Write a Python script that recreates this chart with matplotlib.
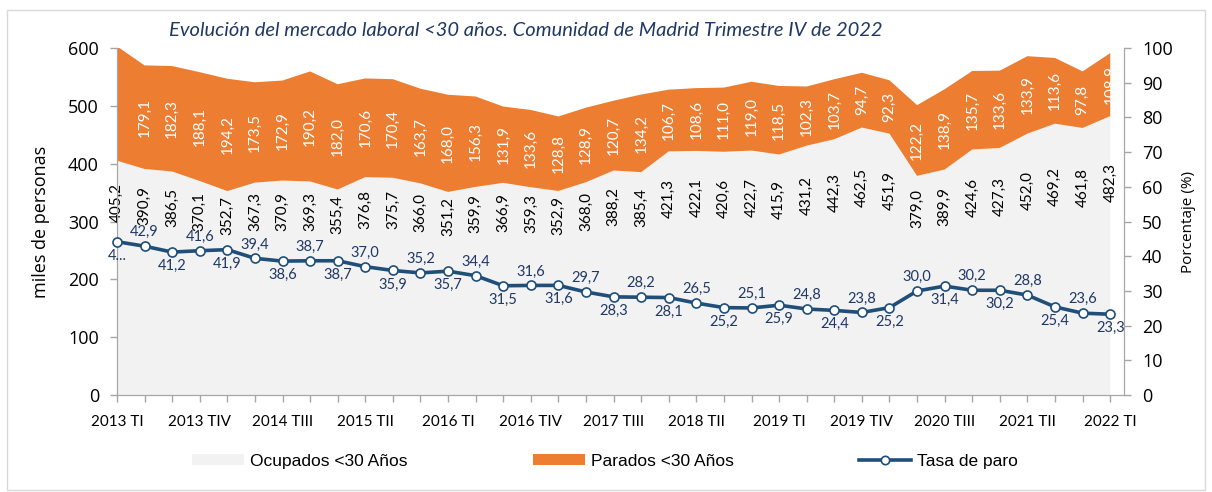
import matplotlib
matplotlib.use("Agg")
import matplotlib.pyplot as plt
from matplotlib.patches import Patch, Rectangle
from matplotlib.lines import Line2D

# Quarters 2013 TI .. 2022 TI
quarters = ["2013 TI", "2013 TII", "2013 TIII", "2013 TIV",
            "2014 TI", "2014 TII", "2014 TIII", "2014 TIV",
            "2015 TI", "2015 TII", "2015 TIII", "2015 TIV",
            "2016 TI", "2016 TII", "2016 TIII", "2016 TIV",
            "2017 TI", "2017 TII", "2017 TIII", "2017 TIV",
            "2018 TI", "2018 TII", "2018 TIII", "2018 TIV",
            "2019 TI", "2019 TII", "2019 TIII", "2019 TIV",
            "2020 TI", "2020 TII", "2020 TIII", "2020 TIV",
            "2021 TI", "2021 TII", "2021 TIII", "2021 TIV",
            "2022 TI"]

ocupados = [405.2, 390.9, 386.5, 370.1, 352.7, 367.3, 370.9, 369.3, 355.4, 376.8,
            375.7, 366.0, 351.2, 359.9, 366.9, 359.3, 352.9, 368.0, 388.2, 385.4,
            421.3, 422.1, 420.6, 422.7, 415.9, 431.2, 442.3, 462.5, 451.9, 379.0,
            389.9, 424.6, 427.3, 452.0, 469.2, 461.8, 482.3]

# first value is not labelled in the source chart (estimated from the area edge)
parados = [197.8, 179.1, 182.3, 188.1, 194.2, 173.5, 172.9, 190.2, 182.0, 170.6,
           170.4, 163.7, 168.0, 156.3, 131.9, 133.6, 128.8, 128.9, 120.7, 134.2,
           106.7, 108.6, 111.0, 119.0, 118.5, 102.3, 103.7, 94.7, 92.3, 122.2,
           138.9, 135.7, 133.6, 133.9, 113.6, 97.8, 108.9]

tasa = [44.2, 42.9, 41.2, 41.6, 41.9, 39.4, 38.6, 38.7, 38.7, 37.0,
        35.9, 35.2, 35.7, 34.4, 31.5, 31.6, 31.6, 29.7, 28.3, 28.2,
        28.1, 26.5, 25.2, 25.1, 25.9, 24.8, 24.4, 23.8, 25.2, 30.0,
        31.4, 30.2, 30.2, 28.8, 25.4, 23.6, 23.3]

GRAY = "#F2F2F2"
ORANGE = "#ED7D31"
BLUE = "#1F4E79"
LBLUE = "#1F3864"
SPINE = "#A6A6A6"
FONT = "Lato"
NUMFONT = "Open Sans"


def fmt(v):
    return ("%.1f" % v).replace(".", ",")


fig = plt.figure(figsize=(12.12, 4.92), dpi=100)
ax = fig.add_axes([0.0965, 0.197, 0.8309, 0.7054])
ax2 = ax.twinx()

x = list(range(len(quarters)))
ax.stackplot(x, ocupados, parados, colors=[GRAY, ORANGE], linewidth=0)
ax.set_xlim(0, len(x) - 0.5)
ax.set_ylim(0, 600)
ax.set_yticks(range(0, 601, 100))
ax2.set_ylim(0, 100)
ax2.set_yticks(range(0, 101, 10))

ax.set_xticks(x)
ax.set_xticklabels([q if i % 3 == 0 else "" for i, q in enumerate(quarters)],
                   fontsize=11, family=FONT)
for lab in ax.get_yticklabels() + ax2.get_yticklabels():
    lab.set_fontsize(13)
    lab.set_family(NUMFONT)

for a in (ax, ax2):
    a.spines["top"].set_visible(False)
    for s in ("left", "right", "bottom"):
        a.spines[s].set_color(SPINE)
    a.tick_params(color=SPINE, length=5, width=1)
ax.tick_params(axis="x", pad=9)
ax.tick_params(axis="y", pad=8)
ax2.tick_params(axis="y", pad=8)

# data labels of the stacked areas
for i in x:
    ax.text(i, 155 + 0.44 * ocupados[i], fmt(ocupados[i]), rotation=90,
            ha="center", va="center", fontsize=11, family=FONT, color="black")
    if i > 0:
        ax.text(i, ocupados[i] + parados[i] / 2, fmt(parados[i]), rotation=90,
                ha="center", va="center", fontsize=11, family=FONT, color="white",
                clip_on=True)

# unemployment rate line
ax2.plot(x, tasa, color=BLUE, linewidth=2.6, marker="o", markersize=6.5,
         markerfacecolor="white", markeredgecolor=BLUE, markeredgewidth=1.2,
         clip_on=False, zorder=5)
for i in x:
    label = fmt(tasa[i]) if i > 0 else "4..."
    if i % 2 == 1:
        ax2.annotate(label, (i, tasa[i]), xytext=(0, 5), textcoords="offset points",
                     ha="center", va="bottom", fontsize=10.5, family=FONT, color=LBLUE)
    else:
        ax2.annotate(label, (i, tasa[i]), xytext=(0, -5), textcoords="offset points",
                     ha="center", va="top", fontsize=10.5, family=FONT, color=LBLUE)

ax.set_ylabel("miles de personas", fontsize=13, family=NUMFONT, labelpad=13)
ax2.set_ylabel("Porcentaje (%)", fontsize=11, family=NUMFONT, labelpad=6)

fig.text(0.434, 0.938, "Evolución del mercado laboral <30 años. Comunidad de Madrid Trimestre IV de 2022",
         ha="center", va="center", fontsize=14.5, style="italic", family=FONT, color="#1F3864")

handles = [Patch(facecolor=GRAY, edgecolor="none"),
           Patch(facecolor=ORANGE, edgecolor="none"),
           Line2D([0], [0], color=BLUE, linewidth=2.6, marker="o", markersize=6,
                  markerfacecolor="white", markeredgecolor=BLUE, markeredgewidth=1.2)]
labels = ["Ocupados <30 Años", "Parados <30 Años", "Tasa de paro"]
fig.legend(handles, labels, loc="center", bbox_to_anchor=(0.4993, 0.063), ncol=3,
           frameon=False, prop={"family": "Liberation Sans", "size": 12.5},
           handlelength=3.0, handletextpad=0.35, columnspacing=7.2, handleheight=0.65)

fig.patches.append(Rectangle((0.006, 0.004), 0.988, 0.976, transform=fig.transFigure,
                             fill=False, edgecolor="#D9D9D9", linewidth=1))

fig.savefig("out.png", dpi=100)
